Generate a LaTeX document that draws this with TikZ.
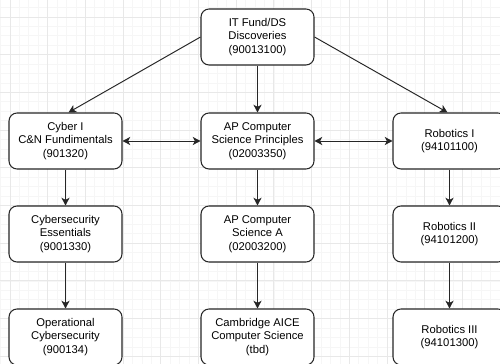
\documentclass[tikz,border=0pt]{standalone}
\usepackage{fontspec}
\setmainfont{Liberation Sans}
\usepackage{tikz}
\usetikzlibrary{positioning, arrows.meta}

\begin{document}
\begin{tikzpicture}[
        x=0.02cm, y=-0.02cm,
        course/.style={rectangle, rounded corners=0.16cm, draw=black!85, line width=0.6pt, fill=white,
            minimum width=2.26cm, minimum height=1.12cm, align=center, font=\fontsize{6.4}{7.6}\selectfont},
        link/.style={draw=black!85, line width=0.55pt, -{Stealth[length=4.4pt, width=4.6pt, inset=1.2pt]}},
        both/.style={link, {Stealth[length=4.4pt, width=4.6pt, inset=1.2pt]}-{Stealth[length=4.4pt, width=4.6pt, inset=1.2pt]}},
        minorline/.style={draw=gray!7, line width=0.4pt},
        majorline/.style={draw=gray!18, line width=0.5pt}
    ]
    \clip (0,0) rectangle (500,364);
    \fill[white] (0,0) rectangle (500,364);

    % background grid
    \foreach \i in {0,...,52} {
        \draw[minorline] ({0.575+9.425*\i},0) -- ++(0,364);
    }
    \foreach \i in {0,...,37} {
        \draw[minorline] (0,{7.575+9.425*\i}) -- ++(500,0);
    }
    \foreach \k in {0,...,12} {
        \draw[majorline] ({10+37.7*\k},0) -- ++(0,364);
    }
    \foreach \k in {0,...,9} {
        \draw[majorline] (0,{17+37.7*\k}) -- ++(500,0);
    }

    \node[course] (itfund) at (257.5, 37) {IT Fund/DS\\Discoveries\\(90013100)};

    \node[course] (cyber1) at (65.5, 141) {Cyber I\\C\&N Fundimentals\\(901320)};
    \node[course] (apcsp) at (257.5, 141) {AP Computer\\Science Principles\\(02003350)};
    \node[course] (robot1) at (449.5, 141) {Robotics I\\(94101100)};

    \node[course] (cyberess) at (65.5, 234) {Cybersecurity\\Essentials\\(9001330)};
    \node[course] (apcsa) at (257.5, 234) {AP Computer\\Science A\\(02003200)};
    \node[course] (robot2) at (449.5, 234) {Robotics II\\(94101200)};

    \node[course] (cyberops) at (65.5, 337) {Operational\\Cybersecurity\\(900134)};
    \node[course] (aice) at (257.5, 337) {Cambridge AICE\\Computer Science\\(tbd)};
    \node[course] (robot3) at (449.5, 337) {Robotics III\\(94101300)};

    \draw[link] (itfund.west) -- ([xshift=0.06cm]cyber1.north);
    \draw[link] (itfund.south) -- (apcsp.north);
    \draw[link] (itfund.east) -- ([xshift=-0.04cm]robot1.north);

    \draw[both] (cyber1.east) -- (apcsp.west);
    \draw[both] (apcsp.east) -- (robot1.west);

    \foreach \upper/\lower in {cyber1/cyberess, cyberess/cyberops, apcsp/apcsa, apcsa/aice, robot1/robot2, robot2/robot3} {
        \draw[link] (\upper.south) -- (\lower.north);
    }
\end{tikzpicture}
\end{document}
